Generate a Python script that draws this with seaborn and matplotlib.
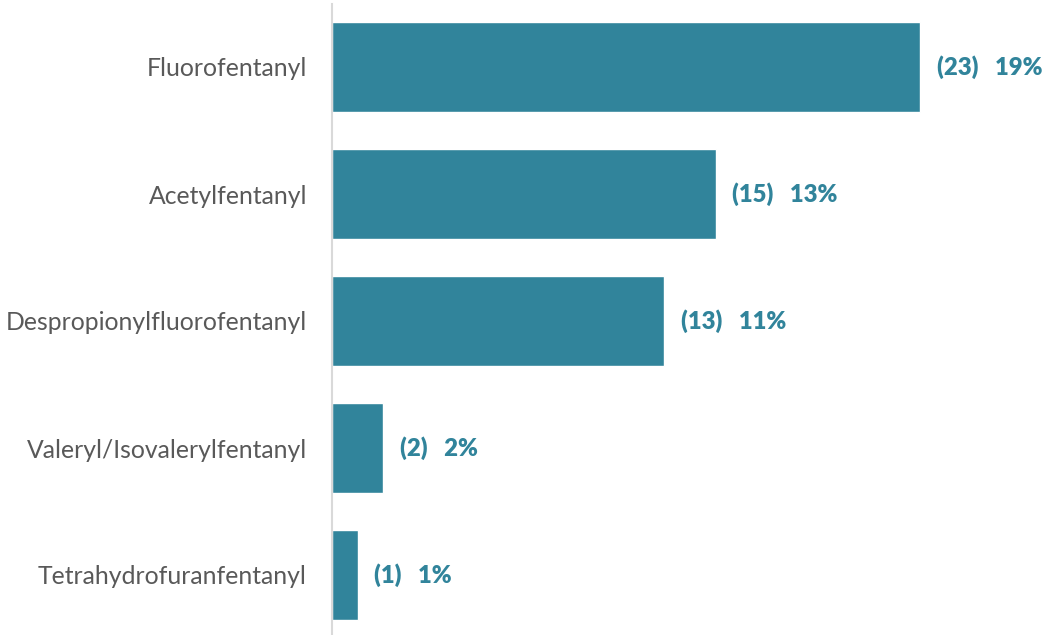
import matplotlib
matplotlib.use("Agg")
import matplotlib.pyplot as plt
import seaborn as sns
import pandas as pd

# data
substances = ["Fluorofentanyl", "Acetylfentanyl", "Despropionylfluorofentanyl",
              "Valeryl/Isovalerylfentanyl", "Tetrahydrofuranfentanyl"]
counts = [23, 15, 13, 2, 1]
percents = [19, 13, 11, 2, 1]

df = pd.DataFrame({"substance": substances, "count": counts, "pct": percents})

bar_color = "#31849B"

sns.set_theme(style="white")
plt.rcParams["font.family"] = ["Lato", "DejaVu Sans"]

fig = plt.figure(figsize=(10.51, 6.35), dpi=100)
ax = fig.add_axes([332 / 1051, -3.5 / 635, 1 - 332 / 1051, 1.0])

sns.barplot(data=df, x="count", y="substance", color=bar_color, width=0.71,
            saturation=1, ax=ax)

ax.set_xlim(0, 28.12)
ax.set_ylim(4.5, -0.5)
ax.set_xlabel("")
ax.set_ylabel("")
ax.set_xticks([])
ax.tick_params(axis="y", length=0, pad=18, labelsize=17.8, labelcolor="#595959")

for s in ["top", "right", "bottom"]:
    ax.spines[s].set_visible(False)
ax.spines["left"].set_color("#D9D9D9")
ax.spines["left"].set_linewidth(1.5)

labels = [f"({c})   {p}%" for c, p in zip(counts, percents)]
ax.bar_label(ax.containers[0], labels=labels, padding=12, fontsize=17.2,
             fontweight="heavy", color=bar_color)

fig.savefig("out.png", dpi=100)
